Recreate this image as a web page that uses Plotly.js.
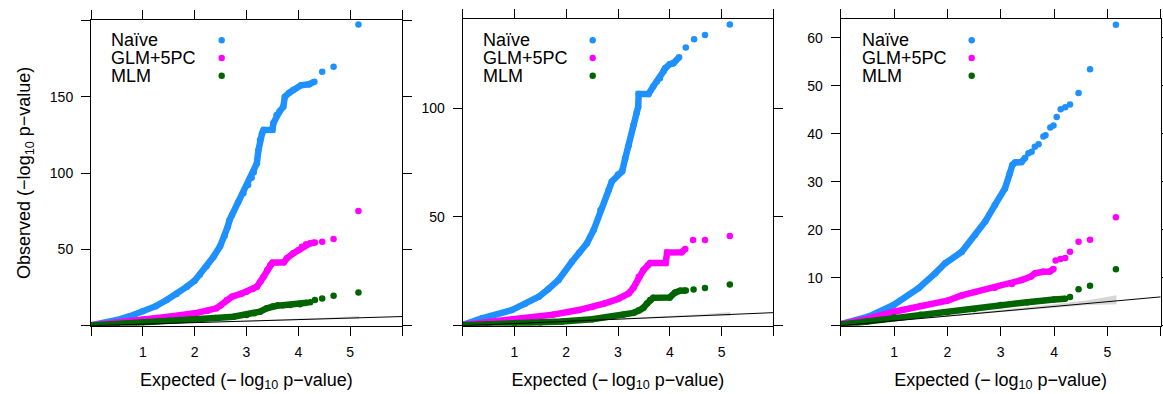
<!DOCTYPE html>
<html><head><meta charset="utf-8">
<script src="https://cdn.plot.ly/plotly-3.0.1.min.js"></script>
<style>html,body{margin:0;padding:0;background:#fff}#chart{width:1163px;height:394px}</style>
</head><body><div id="chart"></div>
<script>
// ---------- data ----------
const seriesNames = ['Naïve', 'GLM+5PC', 'MLM'];
const seriesColors = ['#1E90FF', '#FF00FF', '#006400'];

// Panel 1
const p1NaiveX = [0,0.25,0.5,0.75,1.0,1.25,1.46,1.65,1.85,2.0,2.1,2.23,2.36,2.49,2.58,2.64,2.67,2.72,2.84,2.94,3.03,3.1,3.14,3.2,3.23,3.26,3.30,3.33,3.50,3.52,3.58,3.64,3.71,3.74,3.82,3.90,4.05,4.21,4.31];
const p1NaiveY = [0.3,1.5,3.7,6.2,9.4,12.8,16.8,20.8,25.6,29.5,33.5,39,45,52,59,65,69,72.5,81,86.8,92.2,97,100.5,106.4,115,121.7,126,128.2,128.4,132.8,138,140.5,143.5,150,152.5,154.5,157.5,158.2,159.9];
const p1NaiveTailX = [4.46,4.68,5.16];
const p1NaiveTailY = [166.4,169.7,197.3];
const p1GlmX = [0,0.5,1.0,1.5,2.0,2.25,2.42,2.5,2.62,2.72,2.9,3.0,3.12,3.2,3.27,3.33,3.40,3.46,3.50,3.72,3.78,3.90,4.0,4.07,4.15,4.23,4.32];
const p1GlmY = [0.3,1.9,4.0,5.9,8.1,9.8,11.4,13.3,16.8,19,21,22.3,24,25.6,29,32,36.5,39.8,41.3,41.6,44.2,47.4,49.5,51.8,53.3,54,54.5];
const p1GlmTailX = [4.46,4.68,5.16];
const p1GlmTailY = [55,56.8,75.2];
const p1MlmX = [0,0.5,1.0,1.5,2.0,2.4,2.75,3.0,3.15,3.26,3.39,3.5,3.6,3.7,3.84,4.03,4.16];
const p1MlmY = [0.2,1.0,2.2,3.2,4.2,5.0,5.9,7.0,8.2,9.2,11.4,12.6,13.2,13.4,13.6,14.0,15.1];
const p1MlmTailX = [4.23,4.32,4.46,4.68,5.16];
const p1MlmTailY = [15.3,16.8,17.9,19.6,21.7];

// Panel 2
const p2NaiveX = [0,0.37,0.95,1.2,1.47,1.65,1.85,2.11,2.25,2.40,2.53,2.66,2.82,2.88,3.0,3.08,3.14,3.21,3.30,3.36,3.39,3.40,3.59,3.68,3.75,3.81,3.88,3.91,4.0,4.07,4.18];
const p2NaiveY = [0.3,3.4,7.2,10,13.3,16.8,21,29.4,33.5,37.9,44,53.2,62.4,66.3,69.5,71,77,83,92.3,98,100.7,106.6,106.6,110,112.3,113.8,117,118.4,120.3,120.7,123.5];
const p2NaiveTailX = [4.31,4.47,4.68,5.16];
const p2NaiveTailY = [127.9,131.7,133.7,138.5];
const p2GlmX = [0,0.5,0.95,1.27,1.75,2.24,2.5,2.75,3.0,3.21,3.30,3.40,3.49,3.58,3.62,3.92,3.95,4.23,4.30];
const p2GlmY = [0.3,1.5,2.7,3.4,5.1,7.2,8.6,10.3,12.3,14.9,17.5,22.5,25.5,27.8,28.8,28.8,33.7,33.8,35.3];
const p2GlmTailX = [4.45,4.68,5.16];
const p2GlmTailY = [39.4,39.4,41.3];
const p2MlmX = [0,0.5,1.0,1.5,1.92,2.5,2.88,3.10,3.30,3.40,3.49,3.56,3.62,3.68,4.0,4.10,4.20,4.31];
const p2MlmY = [0.2,0.6,1.1,1.5,1.9,3.0,4.1,5.0,5.9,7.0,8.2,10.2,11.8,12.8,13.0,15.2,16.1,16.2];
const p2MlmTailX = [4.46,4.68,5.16];
const p2MlmTailY = [16.6,17.3,18.9];

// Panel 3
const p3NaiveX = [0,0.52,0.99,1.46,1.77,1.96,2.27,2.52,2.71,2.89,3.08,3.17,3.22,3.27,3.39,3.46];
const p3NaiveY = [0.3,1.9,4.3,7.8,10.9,13,15.4,18.9,21.7,25.1,28.6,31.7,33.5,34.0,34.1,35.0];
const p3NaiveTailX = [3.52,3.58,3.64,3.71,3.80,3.84,3.93,3.99,4.05,4.125,4.21,4.30,4.46,4.675,5.16];
const p3NaiveTailY = [35.9,36.25,37.3,37.8,39.4,39.7,41.3,41.7,43.5,45.1,45.5,46.1,48.5,53.4,62.7];
const p3GlmX = [0,0.5,1.0,1.5,2.0,2.27,2.52,2.89,3.21,3.39,3.56,3.64,3.80,3.92,3.99];
const p3GlmY = [0.3,1.4,2.9,4.1,5.2,6.3,7.0,7.9,8.7,9.5,10.2,10.9,11.25,11.3,11.8];
const p3GlmTailX = [4.03,4.12,4.21,4.30,4.46,4.675,5.16];
const p3GlmTailY = [13.6,13.9,14.1,15.4,17.5,17.9,22.6];
const p3MlmX = [0,0.5,1.0,1.5,2.0,2.5,3.0,3.5,4.0,4.21];
const p3MlmY = [0.2,0.9,1.7,2.3,2.8,3.5,4.3,4.9,5.45,5.6];
const p3MlmTailX = [4.30,4.46,4.675,5.16];
const p3MlmTailY = [6.0,7.6,8.3,11.75];

// Confidence band and reference line (same in all panels)
const ciX = [1.5,2.0,3.0,4.0,4.64,5.17];
const ciUpper = [1.6,2.15,3.25,4.45,5.3,6.35];
const ciLower = [1.45,1.9,2.8,3.75,4.3,4.45];
const refX = [0, 6];
const refY = [0, 6];

// Axis ticks (labelled ticks, plus unlabelled ticks at the panel edges)
const xTickVals = [1,2,3,4,5];
const xTickText = ['1','2','3','4','5'];
const xEdgeTicks = [0,6];
const p1YTickVals = [50,100,150];
const p1YTickText = ['50','100','150'];
const p1YEdgeTicks = [0,200];
const p2YTickVals = [50,100];
const p2YTickText = ['50','100'];
const p2YEdgeTicks = [0];
const p3YTickVals = [10,20,30,40,50,60];
const p3YTickText = ['10','20','30','40','50','60'];
const p3YEdgeTicks = [0];
const yRanges = [[0,200.3],[0,141.2],[0,63.83]];

// ---------- layout geometry ----------
const W = 1163, H = 394;
const FONT = 'Liberation Sans, Arial, Helvetica, sans-serif';
const boxes = [
  {l: 91, r: 402, t: 20, b: 325.7},
  {l: 462.7, r: 773.3, t: 18.7, b: 325.7},
  {l: 840.7, r: 1160.7, t: 19.3, b: 325.7}
];
const legendTextX = [110, 481.7, 860.7];
const legendDotX = [221.7, 592.7, 971.7];
const legendRowY = [40.3, 58, 75.7];

const panels = [
  {series: [[p1NaiveX,p1NaiveY,p1NaiveTailX,p1NaiveTailY],[p1GlmX,p1GlmY,p1GlmTailX,p1GlmTailY],[p1MlmX,p1MlmY,p1MlmTailX,p1MlmTailY]], yv: p1YTickVals, yt: p1YTickText, ye: p1YEdgeTicks},
  {series: [[p2NaiveX,p2NaiveY,p2NaiveTailX,p2NaiveTailY],[p2GlmX,p2GlmY,p2GlmTailX,p2GlmTailY],[p2MlmX,p2MlmY,p2MlmTailX,p2MlmTailY]], yv: p2YTickVals, yt: p2YTickText, ye: p2YEdgeTicks},
  {series: [[p3NaiveX,p3NaiveY,p3NaiveTailX,p3NaiveTailY],[p3GlmX,p3GlmY,p3GlmTailX,p3GlmTailY],[p3MlmX,p3MlmY,p3MlmTailX,p3MlmTailY]], yv: p3YTickVals, yt: p3YTickText, ye: p3YEdgeTicks}
];

const traces = [];
const layout = {
  width: W, height: H,
  margin: {l: 0, r: 0, t: 0, b: 0},
  paper_bgcolor: '#fff', plot_bgcolor: '#fff',
  showlegend: false,
  font: {family: FONT, size: 14, color: '#000'},
  annotations: [], shapes: []
};
const MS = 6.5;

panels.forEach((p, i) => {
  const xa = i === 0 ? 'x' : 'x' + (i + 1);
  const ya = i === 0 ? 'y' : 'y' + (i + 1);
  const bx = boxes[i];
  // CI band
  traces.push({
    x: ciX.concat(ciX.slice().reverse()),
    y: ciUpper.concat(ciLower.slice().reverse()),
    xaxis: xa, yaxis: ya, type: 'scatter', mode: 'lines', fill: 'toself',
    fillcolor: 'rgba(200,200,200,0.75)', line: {width: 0}, hoverinfo: 'skip'
  });
  p.series.forEach((s, k) => {
    traces.push({
      x: s[0], y: s[1], xaxis: xa, yaxis: ya, type: 'scatter', mode: 'lines+markers',
      line: {color: seriesColors[k], width: MS}, marker: {color: seriesColors[k], size: MS},
      name: seriesNames[k], hoverinfo: 'x+y'
    });
    traces.push({
      x: s[2], y: s[3], xaxis: xa, yaxis: ya, type: 'scatter', mode: 'markers',
      marker: {color: seriesColors[k], size: MS}, name: seriesNames[k], hoverinfo: 'x+y'
    });
  });
  traces.push({
    x: refX, y: refY, xaxis: xa, yaxis: ya, type: 'scatter', mode: 'lines',
    line: {color: '#000', width: 1}, hoverinfo: 'skip'
  });

  const common = {
    showline: true, linecolor: '#000', linewidth: 1, mirror: 'allticks',
    ticks: 'outside', ticklen: 9, tickwidth: 1, tickcolor: '#000',
    showgrid: false, zeroline: false, tickmode: 'array',
    tickfont: {family: FONT, size: 14, color: '#000'}
  };
  const minorCommon = {ticks: 'outside', ticklen: 9, tickwidth: 1, tickcolor: '#000', showgrid: false, tickmode: 'array'};
  layout['xaxis' + (i === 0 ? '' : i + 1)] = Object.assign({}, common, {
    domain: [bx.l / W, bx.r / W], anchor: ya, range: [0, 6],
    tickvals: xTickVals, ticktext: xTickText, ticklabelstandoff: 4,
    minor: Object.assign({}, minorCommon, {tickvals: xEdgeTicks}),
    title: {text: 'Expected (−\u2009log<sub>10</sub> p−value)', font: {family: FONT, size: 18, color: '#000'}, standoff: 14}
  });
  const yax = Object.assign({}, common, {
    domain: [1 - bx.b / H, 1 - bx.t / H], anchor: xa, range: yRanges[i],
    tickvals: p.yv, ticktext: p.yt, ticklabelstandoff: 5,
    minor: Object.assign({}, minorCommon, {tickvals: p.ye})
  });
  if (i === 0) {
    yax.title = {text: 'Observed (−log<sub>10</sub> p−value)', font: {family: FONT, size: 18, color: '#000'}, standoff: 14};
  }
  layout['yaxis' + (i === 0 ? '' : i + 1)] = yax;

  // legend (text left, dot right, inside panel)
  seriesNames.forEach((nm, k) => {
    layout.annotations.push({
      xref: 'paper', yref: 'paper', x: legendTextX[i] / W, y: 1 - legendRowY[k] / H,
      xanchor: 'left', yanchor: 'middle', text: nm, showarrow: false, borderpad: 0,
      font: {family: FONT, size: 18, color: '#000'}
    });
    const r = 3.2;
    layout.shapes.push({
      type: 'circle', xref: 'paper', yref: 'paper',
      x0: (legendDotX[i] - r) / W, x1: (legendDotX[i] + r) / W,
      y0: 1 - (legendRowY[k] + r) / H, y1: 1 - (legendRowY[k] - r) / H,
      fillcolor: seriesColors[k], line: {width: 0}
    });
  });
});

Plotly.newPlot('chart', traces, layout, {staticPlot: true, displayModeBar: false});
</script>
</body></html>
